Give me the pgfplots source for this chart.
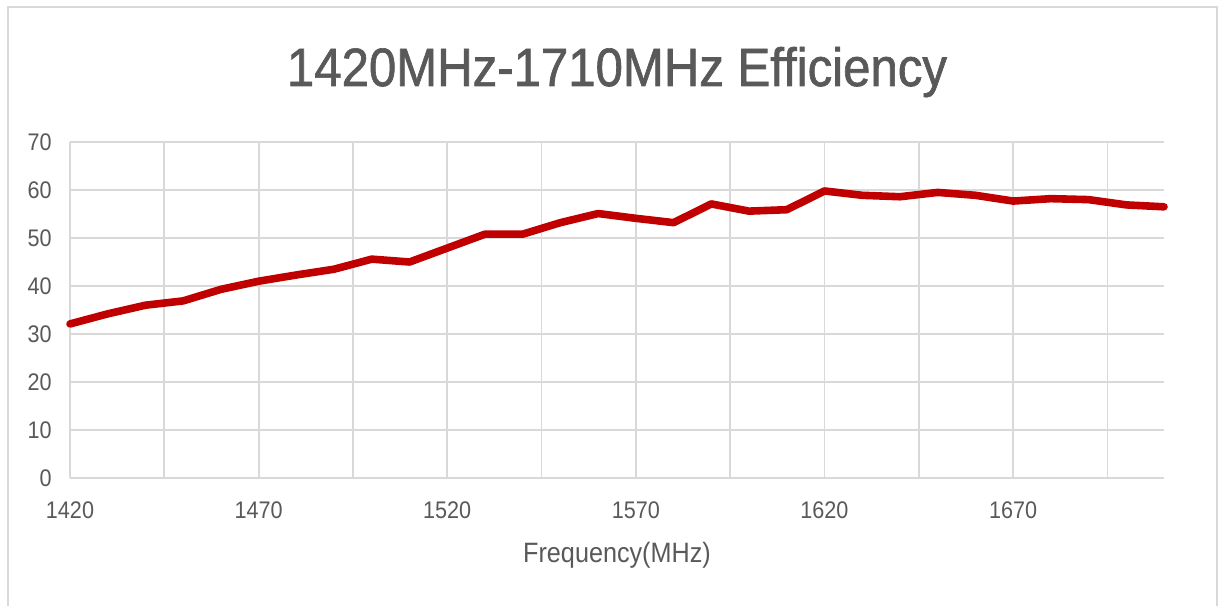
\documentclass[border=0pt]{standalone}
\usepackage{fontspec}
\setmainfont{Liberation Sans}[FakeStretch=0.9]
\newfontfamily\titlefont{Liberation Sans}[FakeStretch=0.91, FakeBold=1.2]
\usepackage{pgfplots}
\pgfplotsset{compat=1.18}
\definecolor{effred}{HTML}{C00000}
\definecolor{gridgray}{HTML}{D9D9D9}
\definecolor{textgray}{HTML}{595959}

\begin{document}
\begin{tikzpicture}
\useasboundingbox (-35pt,-64pt) rectangle (574.5pt,239pt);
% chart frame (bottom edge falls outside the picture)
\draw[gridgray, line width=1pt] (-31pt,-64pt) -- (-31pt,235.5pt) -- (573.5pt,235.5pt) -- (573.5pt,-64pt);
\begin{axis}[
    at={(0,0)}, anchor=south west,
    scale only axis, width=547pt, height=168pt,
    xmin=1420, xmax=1710, ymin=0, ymax=70,
    xtick={1420,1445,...,1695},
    xticklabels={1420,,1470,,1520,,1570,,1620,,1670,},
    ytick={0,10,...,70},
    grid=major,
    major grid style={gridgray, line width=0.9pt},
    axis line style={draw=none},
    major tick length=0pt,
    tick label style={font=\fontsize{12}{14}\selectfont, text=textgray, inner sep=0pt},
    xticklabel style={anchor=base, yshift=-20pt},
    yticklabel style={anchor=east, xshift=-9pt},
    /pgf/number format/assume math mode=true,
    xlabel={Frequency(MHz)},
    xlabel style={at={(axis description cs:0.5,0)}, anchor=base, yshift=-42pt,
        inner sep=0pt, font=\fontsize{14}{16}\selectfont, text=textgray},
    clip=false,
]
\addplot[effred, line width=3.8pt, line join=round, line cap=round] coordinates {
    (1420,32.1) (1430,34.2) (1440,36.0) (1450,36.9) (1460,39.3)
    (1470,41.0) (1480,42.3) (1490,43.5) (1500,45.6) (1510,45.0)
    (1520,47.9) (1530,50.8) (1540,50.8) (1550,53.2) (1560,55.1)
    (1570,54.1) (1580,53.2) (1590,57.1) (1600,55.6) (1610,55.9)
    (1620,59.8) (1630,58.9) (1640,58.6) (1650,59.5) (1660,58.9)
    (1670,57.7) (1680,58.2) (1690,58.0) (1700,56.9) (1710,56.5)
};
\end{axis}
\node[anchor=base, text=textgray, font=\titlefont\fontsize{27}{30}\selectfont, inner sep=0pt]
    at (273.5pt,196pt) {1420MHz-1710MHz Efficiency};
\end{tikzpicture}
\end{document}
